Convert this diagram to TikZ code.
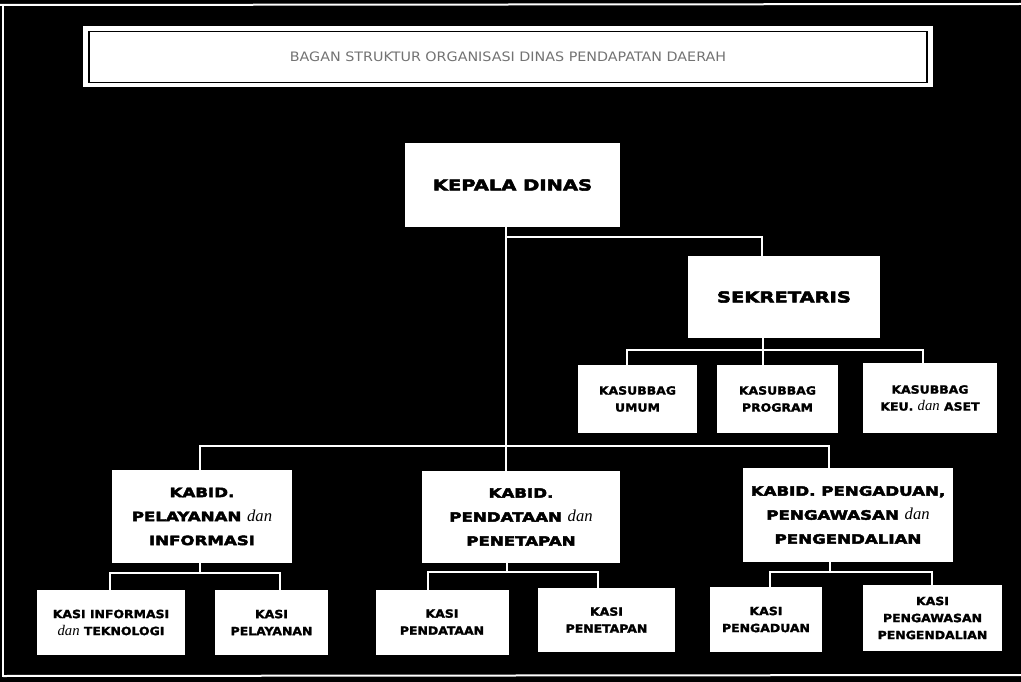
\documentclass[tikz,border=0pt]{standalone}
\usepackage{fontspec}
\setmainfont{DejaVu Sans}
\newfontfamily\heavyfont[FakeStretch=1.3,FakeBold=3.5]{DejaVu Sans}
\newfontfamily\kasifont[FakeStretch=1.1,FakeBold=2]{DejaVu Sans}
\newfontfamily\titlefont[FakeStretch=1.1]{DejaVu Sans}
\newfontfamily\danfont{Liberation Serif}
\newcommand\danit{{\danfont\itshape\mdseries\fontsize{1.3em}{1em}\selectfont dan}}
\begin{document}
\begin{tikzpicture}[x=1pt,y=-1pt,
  box/.style={fill=white, inner sep=0pt, align=center, text=black, outer sep=0pt},
  conn/.style={draw=white, line width=2.6pt},
  frameline/.style={draw=white, line width=2pt},
  head/.style={box, font=\heavyfont\bfseries\fontsize{15}{17}\selectfont},
  kabid/.style={box, font=\heavyfont\bfseries\fontsize{12.8}{24}\selectfont},
  kasi/.style={box, font=\kasifont\bfseries\fontsize{11.3}{17}\selectfont}]
\fill[black] (0,0) rectangle (1021,682);
\useasboundingbox (0,0) rectangle (1021,682);
% frame
\draw[frameline] (0,5) -- (1021,4);
\draw[frameline] (3,5) -- (3,677);
\draw[frameline] (3,676) -- (1021,675);
% title
\node[box, minimum width=850pt, minimum height=61pt] (title) at (508,56.5) {};
\node[draw=black, line width=1.6pt, minimum width=838pt, minimum height=51pt, inner sep=0pt,
      text=black!55, font=\titlefont\fontsize{13}{15}\selectfont] (titletext) at (508,57)
      {BAGAN STRUKTUR ORGANISASI DINAS PENDAPATAN DAERAH};
% boxes
\node[head, minimum width=215pt, minimum height=84pt] (kd) at (512.5,185) {KEPALA DINAS};
\node[head, minimum width=192pt, minimum height=82pt] (sek) at (784,297) {SEKRETARIS};
\node[kasi, minimum width=119pt, minimum height=68pt] (umum) at (637.5,399) {KASUBBAG\\UMUM};
\node[kasi, minimum width=121pt, minimum height=68pt] (prog) at (777.5,399) {KASUBBAG\\PROGRAM};
\node[kasi, minimum width=134pt, minimum height=70pt] (keu) at (930,398) {KASUBBAG\\KEU. \danit{} ASET};
\node[kabid, minimum width=180pt, minimum height=93pt] (kb1) at (202,516.5) {KABID.\\PELAYANAN \danit\\INFORMASI};
\node[kabid, minimum width=198pt, minimum height=92pt] (kb2) at (521,517) {KABID.\\PENDATAAN \danit\\PENETAPAN};
\node[kabid, minimum width=210pt, minimum height=94pt] (kb3) at (848,515) {KABID. PENGADUAN,\\PENGAWASAN \danit\\PENGENDALIAN};
\node[kasi, minimum width=148pt, minimum height=65pt] (k1) at (111,622.5) {KASI INFORMASI\\\danit{} TEKNOLOGI};
\node[kasi, minimum width=113pt, minimum height=65pt] (k2) at (271.5,622.5) {KASI\\PELAYANAN};
\node[kasi, minimum width=133pt, minimum height=65pt] (k3) at (442,622) {KASI\\PENDATAAN};
\node[kasi, minimum width=137pt, minimum height=64pt] (k4) at (606.5,620) {KASI\\PENETAPAN};
\node[kasi, minimum width=112pt, minimum height=65pt] (k5) at (766,619.5) {KASI\\PENGADUAN};
\node[kasi, minimum width=139pt, minimum height=66pt] (k6) at (932.5,618) {KASI\\PENGAWASAN\\PENGENDALIAN};
% connectors
\coordinate (a) at (506,237);
\coordinate (s1) at (762,237);
\draw[conn] (kd.south -| a) -- (kb2.north -| a);
\draw[conn] (a) -- (s1) -- (s1 |- sek.north);
\coordinate (sb) at (763,350);
\coordinate (sbl) at (627,350);
\coordinate (sbr) at (923,350);
\draw[conn] (sek.south -| sb) -- (prog.north -| sb);
\draw[conn] (umum.north -| sbl) -- (sbl) -- (sbr) -- (keu.north -| sbr);
\coordinate (bl) at (200,446);
\coordinate (br) at (829,446);
\draw[conn] (kb1.north -| bl) -- (bl) -- (br) -- (kb3.north -| br);
\coordinate (c1) at (200,573);
\coordinate (c1l) at (110,573);
\coordinate (c1r) at (280,573);
\draw[conn] (kb1.south -| c1) -- (c1);
\draw[conn] (k1.north -| c1l) -- (c1l) -- (c1r) -- (k2.north -| c1r);
\coordinate (c2) at (507,572);
\coordinate (c2l) at (428,572);
\coordinate (c2r) at (598,572);
\draw[conn] (kb2.south -| c2) -- (c2);
\draw[conn] (k3.north -| c2l) -- (c2l) -- (c2r) -- (k4.north -| c2r);
\coordinate (c3) at (830,572);
\coordinate (c3l) at (770,572);
\coordinate (c3r) at (932,572);
\draw[conn] (kb3.south -| c3) -- (c3);
\draw[conn] (k5.north -| c3l) -- (c3l) -- (c3r) -- (k6.north -| c3r);
\end{tikzpicture}
\end{document}
